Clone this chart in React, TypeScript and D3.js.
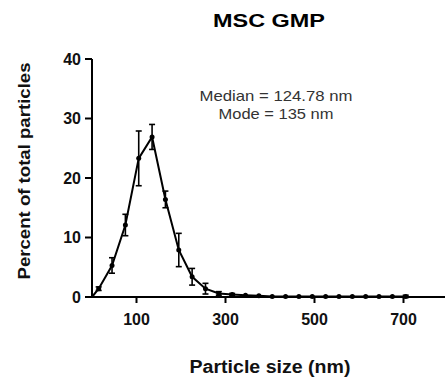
import React from 'react';
import * as d3 from 'd3';

// particle size bins (nm) and mean percent / error
const sizes = [0, 15, 45, 75, 105, 135, 165, 195, 225, 255, 285, 315, 345, 375, 405, 435, 465, 495, 525, 555, 585, 615, 645, 675, 705];
const percent = [0, 1.4, 5.3, 12.1, 23.3, 26.9, 16.4, 7.9, 3.4, 1.4, 0.6, 0.4, 0.3, 0.2, 0.1, 0.1, 0.1, 0.1, 0.1, 0.1, 0.1, 0.1, 0.1, 0.1, 0.1];
const errors = [0, 0.3, 1.3, 1.8, 4.6, 2.1, 1.4, 2.8, 1.4, 0.9, 0.3, 0.2, 0.1, 0.1, 0, 0, 0, 0.1, 0, 0, 0, 0, 0, 0, 0.2];
const xTicks = [100, 300, 500, 700];
const yTicks = [0, 10, 20, 30, 40];

const width = 445;
const height = 381;
const marginLeft = 92;
const marginTop = 59;
const originY = 297;

const App: React.FC = () => {
  const x = d3.scaleLinear().domain([0, 800]).range([marginLeft, marginLeft + 800 * 0.445]);
  const y = d3.scaleLinear().domain([0, 40]).range([originY, marginTop]);

  const pts = sizes.map((s, i) => ({ s, v: percent[i], e: errors[i] }));
  const line = d3.line<{ s: number; v: number }>().x(d => x(d.s)).y(d => y(d.v));
  const font = 'Arial, "Liberation Sans", sans-serif';

  return (
    <svg width={width} height={height} style={{ position: 'absolute', left: 0, top: 0, background: '#fff' }}>
      <text x={269} y={27} textAnchor="middle" fontFamily={font} fontWeight="bold" fontSize={19}
        textLength={112} lengthAdjust="spacingAndGlyphs">MSC GMP</text>

      {/* y axis */}
      <line x1={marginLeft} x2={marginLeft} y1={y(40)} y2={originY + 1} stroke="#000" strokeWidth={2} />
      {yTicks.map(t => (
        <g key={t}>
          <line x1={marginLeft - 7} x2={marginLeft} y1={y(t)} y2={y(t)} stroke="#000" strokeWidth={2} />
          <text x={marginLeft - 11} y={y(t)} dy="0.36em" textAnchor="end" fontFamily={font} fontWeight="bold" fontSize={16} fill="#111">{t}</text>
        </g>
      ))}

      {/* x axis */}
      <line x1={marginLeft - 1} x2={width} y1={originY} y2={originY} stroke="#000" strokeWidth={2} />
      {xTicks.map(t => (
        <g key={t}>
          <line x1={x(t)} x2={x(t)} y1={originY} y2={originY + 6} stroke="#000" strokeWidth={2} />
          <text x={x(t)} y={originY + 28} textAnchor="middle" fontFamily={font} fontWeight="bold" fontSize={16} fill="#111">{t}</text>
        </g>
      ))}

      <text transform={`translate(30,171) rotate(-90)`} textAnchor="middle" fontFamily={font} fontWeight="bold" fontSize={16}
        textLength={217} lengthAdjust="spacingAndGlyphs" fill="#111">Percent of total particles</text>
      <text x={270} y={373} textAnchor="middle" fontFamily={font} fontWeight="bold" fontSize={18}
        textLength={161} lengthAdjust="spacingAndGlyphs" fill="#111">Particle size (nm)</text>

      <text x={276} y={101} textAnchor="middle" fontFamily={font} fontSize={14.5} fill="#333"
        textLength={153} lengthAdjust="spacingAndGlyphs">Median = 124.78 nm</text>
      <text x={276} y={119} textAnchor="middle" fontFamily={font} fontSize={14.5} fill="#333"
        textLength={115} lengthAdjust="spacingAndGlyphs">Mode = 135 nm</text>

      <path d={line(pts) ?? ''} fill="none" stroke="#000" strokeWidth={2} />
      {pts.slice(1).map(p => (
        <g key={p.s} stroke="#000" strokeWidth={1.6}>
          {p.e > 0.15 && (
            <>
              <line x1={x(p.s)} x2={x(p.s)} y1={y(p.v + p.e)} y2={y(p.v - p.e)} />
              <line x1={x(p.s) - 3} x2={x(p.s) + 3} y1={y(p.v + p.e)} y2={y(p.v + p.e)} />
              <line x1={x(p.s) - 3} x2={x(p.s) + 3} y1={y(p.v - p.e)} y2={y(p.v - p.e)} />
            </>
          )}
          <circle cx={x(p.s)} cy={y(p.v)} r={2.5} fill="#000" stroke="none" />
        </g>
      ))}
    </svg>
  );
};

export default App;
